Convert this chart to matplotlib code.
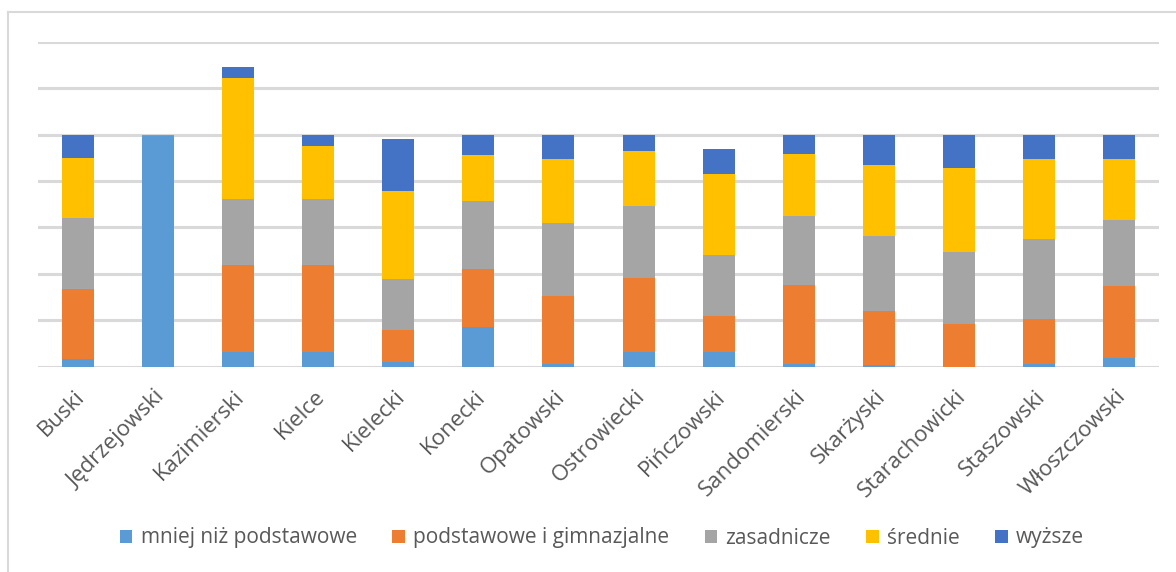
import matplotlib
matplotlib.use("Agg")
import matplotlib.pyplot as plt
from matplotlib.lines import Line2D
from matplotlib.transforms import ScaledTranslation
import numpy as np

plt.rcParams['font.family'] = ['Open Sans', 'DejaVu Sans']

powiaty = ["Buski", "Jędrzejowski", "Kazimierski", "Kielce", "Kielecki", "Konecki",
           "Opatowski", "Ostrowiecki", "Pińczowski", "Sandomierski", "Skarżyski",
           "Starachowicki", "Staszowski", "Włoszczowski"]

mniej_niz_podstawowe = [3.2, 99.4, 6.4, 6.4, 2.0, 16.9, 1.3, 6.4, 6.4, 1.3, 0.7, 0.0, 1.3, 3.6]
podstawowe_gimnazjalne = [30.2, 0.6, 37.3, 37.3, 13.8, 25.2, 29.2, 32.0, 15.4, 33.8, 23.2, 18.5, 19.3, 31.0]
zasadnicze = [30.8, 0.0, 28.7, 28.7, 21.9, 29.3, 31.6, 30.8, 26.5, 29.7, 32.6, 30.8, 34.3, 28.6]
srednie = [25.8, 0.0, 51.9, 22.8, 38.0, 19.9, 27.5, 23.7, 34.7, 26.9, 30.3, 36.4, 34.7, 26.4]
wyzsze = [10.0, 0.0, 5.0, 4.8, 22.2, 8.7, 10.4, 7.1, 10.9, 8.3, 13.2, 14.3, 10.4, 10.4]

series = [
    ("mniej niż podstawowe", mniej_niz_podstawowe, "#5B9BD5"),
    ("podstawowe i gimnazjalne", podstawowe_gimnazjalne, "#ED7D31"),
    ("zasadnicze", zasadnicze, "#A5A5A5"),
    ("średnie", srednie, "#FFC000"),
    ("wyższe", wyzsze, "#4472C4"),
]

fig = plt.figure(figsize=(11.76, 5.72), dpi=100)
ax = fig.add_axes([38 / 1176, 1 - 366.7 / 572, 1121 / 1176, 325 / 572])

x = np.arange(len(powiaty))
bottom = np.zeros(len(powiaty))
for name, vals, color in series:
    vals = np.array(vals)
    ax.bar(x, vals, width=0.4, bottom=bottom, color=color, label=name, zorder=3)
    bottom += vals

ax.set_xlim(-0.5, len(powiaty) - 0.5)
ax.set_ylim(0, 140)
ax.set_yticks(np.arange(0, 141, 20))
ax.yaxis.grid(True, color="#D9D9D9", linewidth=2.2, zorder=0)
ax.tick_params(axis="y", left=False, labelleft=False)
ax.tick_params(axis="x", bottom=False, length=0, pad=14)
for s in ax.spines.values():
    s.set_visible(False)

ax.set_xticks(x)
ax.set_xticklabels(powiaty, rotation=45, ha="right", rotation_mode="anchor",
                   fontsize=16, color="#595959")
shift = ScaledTranslation(-4 / 100, 0, fig.dpi_scale_trans)
for lbl in ax.get_xticklabels():
    lbl.set_transform(lbl.get_transform() + shift)

ax.legend(loc="center", bbox_to_anchor=(602 / 1176, 1 - 538 / 572),
          bbox_transform=fig.transFigure, ncol=5, frameon=False,
          fontsize=15, labelcolor="#595959", handlelength=0.6, handleheight=0.6,
          handletextpad=0.4, columnspacing=1.7)

# chart area frame
fig.add_artist(Line2D([8 / 1176, 1], [1 - 12 / 572, 1 - 12 / 572],
                      transform=fig.transFigure, color="#D9D9D9", linewidth=1.5))
fig.add_artist(Line2D([8 / 1176, 8 / 1176], [0, 1 - 12 / 572],
                      transform=fig.transFigure, color="#D9D9D9", linewidth=1.5))

fig.savefig("out.png", dpi=100)
